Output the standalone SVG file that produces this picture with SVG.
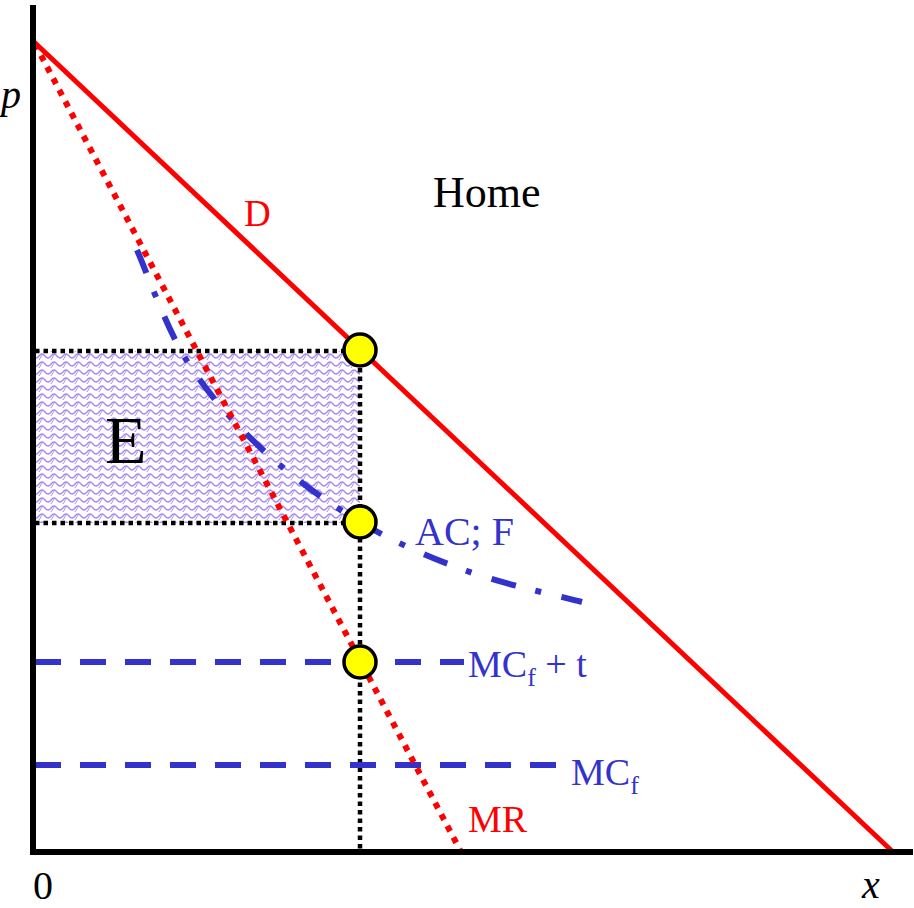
<svg xmlns="http://www.w3.org/2000/svg" width="914" height="908" viewBox="0 0 914 908">
<defs>
<pattern id="wave" x="0" y="0" width="12" height="8" patternUnits="userSpaceOnUse">
<path d="M0,6 C3,6 3,2 6,2 C9,2 9,6 12,6" fill="none" stroke="#a88af2" stroke-width="1.3"/>
<path d="M6,2 C6,4 4,6 3,8" fill="none" stroke="#a88af2" stroke-width="1"/>
</pattern>
<style>
.axis{stroke:#000;stroke-width:6;fill:none}
.dotk{stroke:#000;stroke-width:4.5;stroke-dasharray:4.5 4;fill:none}
.red{stroke:#ff0000;stroke-width:5;fill:none}
.reddot{stroke:#ff0000;stroke-width:6;stroke-dasharray:6 7;fill:none}
.bdash{stroke:#3333cc;stroke-width:6;stroke-dasharray:26 19;fill:none}
.bdd{stroke:#3333cc;stroke-width:6;stroke-dasharray:25 20 6 21;fill:none}
.pt{fill:#ffff00;stroke:#000;stroke-width:3.5}
.t{font-family:"Liberation Serif","Times New Roman",serif}
.blue{fill:#3333cc}
.rd{fill:#ff0000}
</style>
</defs>
<rect width="914" height="908" fill="#fff"/>
<g id="area-E">
<rect x="35" y="351" width="325" height="172" fill="url(#wave)"/>
</g>
<g id="connectors">
<path class="dotk" d="M35,351 H360 M35,523 H360 M360,351 V852"/>
<path class="bdash" d="M35,662 H464"/>
<path class="bdash" d="M35,765 H558"/>
<path class="bdd" d="M137,250 C145.3,268.5 166,327.7 187,361 C208,394.3 234.2,423.2 263,450 C291.8,476.8 326,501.8 360,522 C394,542.2 430,557.7 467,571 C504,584.3 562.8,596.8 582,602"/>
<path class="reddot" d="M35,44 L460,850"/>
<path class="red" d="M33,41 L893,852"/>
</g>
<g id="axes">
<path class="axis" d="M33,5 V855 M30,852 H913"/>
</g>
<g id="point-top"><circle class="pt" cx="360" cy="350" r="16"/></g>
<g id="point-mid"><circle class="pt" cx="360" cy="522" r="16"/></g>
<g id="point-low"><circle class="pt" cx="360" cy="662" r="16"/></g>
<g id="labels">
<text class="t" x="1" y="108" font-size="40" font-style="italic">p</text>
<text class="t" x="33" y="899" font-size="40">0</text>
<text class="t" x="862" y="898" font-size="40" font-style="italic">x</text>
<text class="t" x="433" y="207" font-size="44">Home</text>
<text class="t rd" x="244" y="226" font-size="37">D</text>
<text class="t rd" x="468" y="832" font-size="38">MR</text>
<text class="t" x="105" y="463" font-size="68">E</text>
<text class="t blue" x="415" y="545" font-size="40">AC; F</text>
<text class="t blue" x="468" y="677" font-size="38">MC<tspan font-size="26" dy="9">f</tspan><tspan dy="-9"> + t</tspan></text>
<text class="t blue" x="571" y="785" font-size="38">MC<tspan font-size="26" dy="9">f</tspan></text>
</g>
</svg>
